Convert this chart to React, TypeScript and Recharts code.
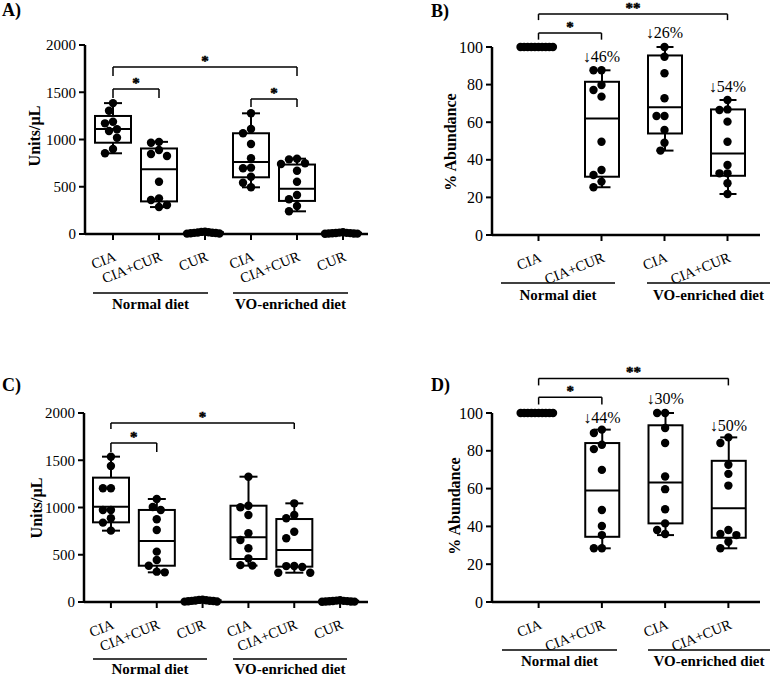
import React from 'react';
import { ComposedChart, Bar, Scatter, XAxis, YAxis, ReferenceLine, ReferenceDot } from 'recharts';

const FONT = "'Liberation Serif', 'Times New Roman', serif";
const txt = { fontFamily: FONT } as any;

const catsUnits = ['CIA', 'CIA+CUR', 'CUR', 'CIA', 'CIA+CUR', 'CUR'];
const catsPct = ['CIA', 'CIA+CUR', 'CIA', 'CIA+CUR'];
const unitTicks = [0, 500, 1000, 1500, 2000];
const pctTicks = [0, 20, 40, 60, 80, 100];

// A) Units/uL
const minA = [854, 285, 4, 494, 240, 3];
const q1A = [966, 345, 8, 600, 350, 6];
const medA = [1110, 684, 12, 762, 480, 9];
const q3A = [1249, 905, 18, 1066, 735, 13];
const maxA = [1385, 975, 25, 1277, 797, 18];
const ptsA = [
  [1385, 1305, 1188, 1171, 1108, 1090, 1019, 899, 854],
  [975, 966, 889, 847, 825, 553, 377, 360, 307, 285],
  [4, 6, 8, 10, 12, 14, 16, 18, 22, 25],
  [1277, 1111, 1066, 952, 801, 702, 695, 606, 543, 494],
  [797, 790, 748, 741, 670, 553, 413, 367, 296, 240],
  [3, 4, 5, 6, 8, 9, 10, 12, 15, 18],
];

// B) % abundance
const minB = [100, 25.4, 44.9, 21.8];
const q1B = [100, 31, 54, 31.5];
const medB = [100, 62, 68, 43.3];
const q3B = [100, 81.5, 95.5, 66.8];
const maxB = [100, 87.6, 100, 71.8];
const ptsB = [
  [100, 100, 100, 100, 100, 100, 100, 100, 100, 100],
  [87.6, 87.6, 79.8, 77.1, 73.6, 49.6, 34.6, 31.9, 28.4, 25.4],
  [100, 94.8, 86, 72.7, 63.3, 63.3, 55.9, 49.1, 44.9],
  [71.8, 66.8, 66.5, 60.3, 49.6, 37.2, 32.8, 32.8, 27.5, 21.8],
];
const dropsB = ['↓46%', '↓26%', '↓54%'];

// C) Units/uL
const minC = [755, 314, 4, 385, 310, 3];
const q1C = [843, 384, 8, 455, 374, 6];
const medC = [1009, 645, 12, 685, 550, 9];
const q3C = [1316, 974, 18, 1019, 878, 13];
const maxC = [1538, 1090, 25, 1326, 1044, 18];
const ptsC = [
  [1538, 1439, 1203, 1203, 974, 974, 886, 840, 755],
  [1090, 1006, 974, 875, 762, 533, 444, 384, 321, 314],
  [4, 6, 8, 10, 12, 14, 16, 18, 22, 25],
  [1326, 1019, 1002, 921, 727, 656, 568, 462, 390, 385],
  [1044, 921, 886, 744, 674, 381, 380, 370, 310, 310],
  [3, 4, 5, 6, 8, 9, 10, 12, 15, 18],
];

// D) % abundance
const minD = [100, 28.4, 35.4, 28.4];
const q1D = [100, 34.5, 41.6, 34];
const medD = [100, 59, 63.2, 49.6];
const q3D = [100, 84.1, 93.5, 74.7];
const maxD = [100, 91.2, 100, 87.1];
const ptsD = [
  [100, 100, 100, 100, 100, 100, 100, 100, 100, 100],
  [91.2, 89.4, 83.2, 80.9, 69.9, 48.7, 40.2, 35.4, 28.4, 28.4],
  [100, 100, 92.1, 84.1, 66.4, 59.7, 49.1, 41.6, 38.1, 36],
  [87.1, 84.1, 72.6, 67.8, 61.6, 38.1, 36, 35.4, 31.9, 28.4],
];
const dropsD = ['↓44%', '↓30%', '↓50%'];

type Bracket = { from: number; to: number; y: number; drop: number; mark: string };
type Note = { at: number; y: number; text: string };

// spread points sideways so they don't sit on top of each other
function swarm(vals: number[], pxPerUnit: number, pxPerCat: number, d = 8, maxHalf = 18) {
  const order = vals.map((_, i) => i).sort((a, b) => vals[b] - vals[a]);
  const placed: { x: number; y: number }[] = [];
  const off = vals.map(() => 0);
  for (const i of order) {
    const y = vals[i] * pxPerUnit;
    for (let k = 0; k < 60; k++) {
      const step = (Math.ceil(k / 2) * (k % 2 ? -1 : 1) * d) / 2;
      if (placed.every((p) => Math.hypot(p.x - step, p.y - y) >= d)) {
        off[i] = step;
        placed.push({ x: step, y });
        break;
      }
    }
  }
  const m = Math.max(...off.map(Math.abs));
  const s = m > maxHalf ? maxHalf / m : 1;
  return off.map((o) => (o * s) / pxPerCat);
}

const BoxShape = (props: any) => {
  const { x, y, width, height, payload } = props;
  const top = Math.min(y, y + height);
  const bot = Math.max(y, y + height);
  const span = payload.max - payload.min;
  const py = (v: number) => (span > 0 ? bot - ((v - payload.min) / span) * (bot - top) : top);
  const cx = x + width / 2;
  const cap = width / 4;
  return (
    <g stroke="#000" strokeWidth={2} fill="none">
      <line x1={cx} x2={cx} y1={py(payload.max)} y2={py(payload.q3)} />
      <line x1={cx} x2={cx} y1={py(payload.q1)} y2={py(payload.min)} />
      <line x1={cx - cap} x2={cx + cap} y1={py(payload.max)} y2={py(payload.max)} />
      <line x1={cx - cap} x2={cx + cap} y1={py(payload.min)} y2={py(payload.min)} />
      <rect x={x} y={py(payload.q3)} width={width} height={py(payload.q1) - py(payload.q3)} />
      <line x1={x} x2={x + width} y1={py(payload.med)} y2={py(payload.med)} />
    </g>
  );
};

type PanelProps = {
  left: number; top: number; width: number; height: number;
  margin: { top: number; right: number; bottom: number; left: number };
  yWidth: number; pad: { left: number; right: number };
  cats: string[]; mins: number[]; q1s: number[]; meds: number[]; q3s: number[]; maxs: number[];
  pts: number[][]; yMax: number; yTicks: number[]; barSize: number; tickFont: number;
  brackets: Bracket[]; notes: Note[];
};

function Panel(p: PanelProps) {
  const xH = 60;
  const plotW = p.width - p.margin.left - p.margin.right - p.yWidth;
  const plotH = p.height - p.margin.top - p.margin.bottom - xH;
  const n = p.cats.length;
  const pxPerCat = (plotW - p.pad.left - p.pad.right) / n;
  const rows = p.cats.map((c, i) => ({ id: i, min: p.mins[i], q1: p.q1s[i], med: p.meds[i], q3: p.q3s[i], max: p.maxs[i] }));
  const dots = p.pts.flatMap((vals, ci) => {
    const off = swarm(vals, plotH / p.yMax, pxPerCat);
    return vals.map((v, j) => ({ x: ci + off[j], y: v }));
  });
  const XTick = (t: any) => {
    const tx = t.x + 4;
    const ty = t.y + 18;
    return (
      <text x={tx} y={ty} transform={`rotate(-22, ${tx}, ${ty})`} textAnchor="end" fontSize={14.5} style={txt} fill="#000">
        {p.cats[t.payload.value]}
      </text>
    );
  };
  const axisLine = { stroke: '#000', strokeWidth: 2.5 };
  const tickLine = { stroke: '#000', strokeWidth: 2 };
  return (
    <div style={{ position: 'absolute', left: p.left, top: p.top }}>
      <ComposedChart width={p.width} height={p.height} data={rows} margin={p.margin}>
        <XAxis xAxisId="cat" dataKey="id" type="category" interval={0} padding={p.pad} height={xH}
          axisLine={axisLine} tickLine={tickLine} tickSize={6} tick={XTick} />
        <XAxis xAxisId="num" dataKey="x" type="number" domain={[-0.5, n - 0.5]} padding={p.pad} hide allowDataOverflow />
        <YAxis yAxisId="y" type="number" domain={[0, p.yMax]} ticks={p.yTicks} interval={0} width={p.yWidth}
          axisLine={axisLine} tickLine={tickLine} tickSize={6} tickMargin={3}
          tick={{ fontSize: p.tickFont, style: txt, fill: '#000' }} />
        <Bar xAxisId="cat" yAxisId="y" dataKey={(d: any) => [d.min, d.max]} barSize={p.barSize}
          shape={BoxShape} isAnimationActive={false} />
        <Scatter xAxisId="num" yAxisId="y" data={dots} dataKey="y" isAnimationActive={false}
          shape={(s: any) => <circle cx={s.cx} cy={s.cy} r={4.2} fill="#000" />} />
        {p.brackets.map((b, i) => (
          <React.Fragment key={i}>
            <ReferenceLine xAxisId="num" yAxisId="y" ifOverflow="visible" stroke="#000" strokeWidth={1.5}
              segment={[{ x: b.from, y: b.y }, { x: b.to, y: b.y }]} />
            <ReferenceLine xAxisId="num" yAxisId="y" ifOverflow="visible" stroke="#000" strokeWidth={1.5}
              segment={[{ x: b.from, y: b.y }, { x: b.from, y: b.drop }]} />
            <ReferenceLine xAxisId="num" yAxisId="y" ifOverflow="visible" stroke="#000" strokeWidth={1.5}
              segment={[{ x: b.to, y: b.y }, { x: b.to, y: b.drop }]} />
            <ReferenceDot xAxisId="num" yAxisId="y" ifOverflow="visible" x={(b.from + b.to) / 2} y={b.y}
              shape={(s: any) => (
                <text x={s.cx} y={s.cy - 1} textAnchor="middle" fontSize={15} fontWeight={700} style={txt}
                  fill="#000" stroke="#000" strokeWidth={0.5}>{b.mark}</text>
              )} />
          </React.Fragment>
        ))}
        {p.notes.map((t, i) => (
          <ReferenceDot key={`n${i}`} xAxisId="num" yAxisId="y" ifOverflow="visible" x={t.at} y={t.y}
            shape={(s: any) => (
              <text x={s.cx} y={s.cy} textAnchor="middle" fontSize={16} style={txt} fill="#000">{t.text}</text>
            )} />
        ))}
      </ComposedChart>
    </div>
  );
}

const bold = { style: txt, fontWeight: 700, fill: '#000' } as const;

function Overlay() {
  const groups = [
    { y: 293, ty: 309, n: [93, 208], v: [233, 348] },
    { y: 283, ty: 300, n: [501, 615], v: [647, 770] },
    { y: 659, ty: 674, n: [93, 207], v: [233, 347] },
    { y: 650, ty: 666, n: [502, 617], v: [648, 770] },
  ];
  const titles = [
    { x: 34, y: 136, t: 'Units/µL' },
    { x: 450, y: 142, t: '% Abundance' },
    { x: 36, y: 508, t: 'Units/µL' },
    { x: 454, y: 506, t: '% Abundance' },
  ];
  const letters = [
    { x: 2, y: 16, t: 'A)' },
    { x: 431, y: 17, t: 'B)' },
    { x: 2, y: 391, t: 'C)' },
    { x: 431, y: 391, t: 'D)' },
  ];
  return (
    <svg width={778} height={678} style={{ position: 'absolute', left: 0, top: 0, pointerEvents: 'none' }}>
      {groups.map((g, i) => (
        <g key={i}>
          <line x1={g.n[0]} x2={g.n[1]} y1={g.y} y2={g.y} stroke="#000" strokeWidth={1.5} />
          <line x1={g.v[0]} x2={g.v[1]} y1={g.y} y2={g.y} stroke="#000" strokeWidth={1.5} />
          <text x={(g.n[0] + g.n[1]) / 2} y={g.ty} textAnchor="middle" fontSize={15} {...bold}>Normal diet</text>
          <text x={(g.v[0] + g.v[1]) / 2} y={g.ty} textAnchor="middle" fontSize={15} {...bold}>VO-enriched diet</text>
        </g>
      ))}
      {titles.map((t, i) => (
        <text key={i} x={t.x} y={t.y} transform={`rotate(-90, ${t.x}, ${t.y})`} textAnchor="middle"
          dominantBaseline="central" fontSize={16} {...bold}>{t.t}</text>
      ))}
      {letters.map((l, i) => (
        <text key={i} x={l.x} y={l.y} fontSize={18} {...bold}>{l.t}</text>
      ))}
    </svg>
  );
}

export default function App() {
  return (
    <div style={{ position: 'absolute', left: 0, top: 0, width: 778, height: 678, background: '#fff' }}>
      <Panel left={0} top={0} width={390} height={320} margin={{ top: 45, right: 22, bottom: 26, left: 0 }}
        yWidth={85} pad={{ left: 5, right: 2 }} cats={catsUnits}
        mins={minA} q1s={q1A} meds={medA} q3s={q3A} maxs={maxA} pts={ptsA}
        yMax={2000} yTicks={unitTicks} barSize={36} tickFont={15}
        brackets={[
          { from: 0, to: 4, y: 1767, drop: 1672, mark: '*' },
          { from: 0, to: 1, y: 1534, drop: 1439, mark: '*' },
          { from: 3, to: 4, y: 1429, drop: 1344, mark: '*' },
        ]}
        notes={[]} />
      <Panel left={390} top={0} width={388} height={320} margin={{ top: 47, right: 18, bottom: 25, left: 0 }}
        yWidth={102} pad={{ left: 15, right: 1 }} cats={catsPct}
        mins={minB} q1s={q1B} meds={medB} q3s={q3B} maxs={maxB} pts={ptsB}
        yMax={100} yTicks={pctTicks} barSize={34} tickFont={16}
        brackets={[
          { from: 0, to: 3, y: 117.5, drop: 114.3, mark: '**' },
          { from: 0, to: 1, y: 107.4, drop: 103.9, mark: '*' },
        ]}
        notes={[
          { at: 1, y: 92, text: dropsB[0] },
          { at: 2, y: 104.8, text: dropsB[1] },
          { at: 3, y: 76, text: dropsB[2] },
        ]} />
      <Panel left={0} top={330} width={390} height={348} margin={{ top: 83, right: 22, bottom: 16, left: 0 }}
        yWidth={84} pad={{ left: 4, right: 5 }} cats={catsUnits}
        mins={minC} q1s={q1C} meds={medC} q3s={q3C} maxs={maxC} pts={ptsC}
        yMax={2000} yTicks={unitTicks} barSize={36} tickFont={15}
        brackets={[
          { from: 0, to: 4, y: 1894, drop: 1831, mark: '*' },
          { from: 0, to: 1, y: 1683, drop: 1587, mark: '*' },
        ]}
        notes={[]} />
      <Panel left={390} top={330} width={388} height={348} margin={{ top: 83, right: 18, bottom: 16, left: 0 }}
        yWidth={102} pad={{ left: 15, right: 0 }} cats={catsPct}
        mins={minD} q1s={q1D} meds={medD} q3s={q3D} maxs={maxD} pts={ptsD}
        yMax={100} yTicks={pctTicks} barSize={34} tickFont={16}
        brackets={[
          { from: 0, to: 3, y: 118.3, drop: 114.6, mark: '**' },
          { from: 0, to: 1, y: 108.3, drop: 104.5, mark: '*' },
        ]}
        notes={[
          { at: 1, y: 94.9, text: dropsD[0] },
          { at: 2, y: 104.5, text: dropsD[1] },
          { at: 3, y: 90.7, text: dropsD[2] },
        ]} />
      <Overlay />
    </div>
  );
}
